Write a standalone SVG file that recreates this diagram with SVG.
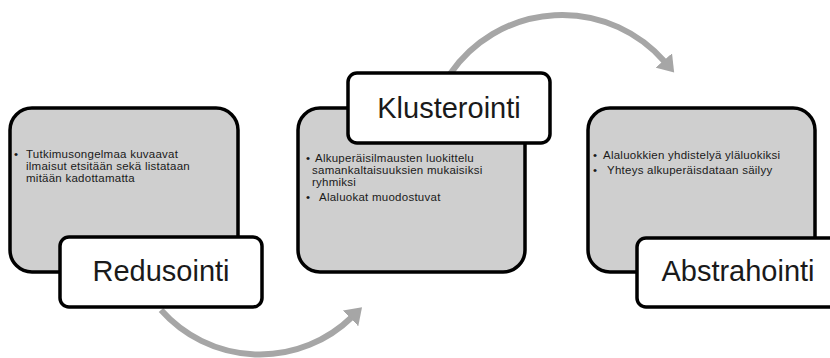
<svg xmlns="http://www.w3.org/2000/svg" width="830" height="358" viewBox="0 0 830 358">
<defs>
<marker id="ah" markerUnits="userSpaceOnUse" markerWidth="20" markerHeight="22" refX="2" refY="11" orient="auto">
<path d="M0,0 L16,11 L0,22 z" fill="#a6a6a6"/>
</marker>
<style>
.panel{fill:#cfcfcf;stroke:#000;stroke-width:3.5}
.label{fill:#fff;stroke:#000;stroke-width:3.5}
.big{font-family:"Liberation Sans",Arial,sans-serif;font-size:29px;fill:#1a1a1a;text-anchor:middle}
.small{font-family:"Liberation Sans",Arial,sans-serif;font-size:11.5px;letter-spacing:0.25px;fill:#1a1a1a}
.arc{fill:none;stroke:#a6a6a6;stroke-width:6;marker-end:url(#ah)}
</style>
</defs>
<rect width="830" height="358" fill="#fff"/>
<g id="connectors">
<path class="arc" d="M 161 310 A 132 132 0 0 0 352 317"/>
<path class="arc" d="M 450 74 A 136 136 0 0 1 665 62"/>
</g>
<g id="redusointi">
<rect class="panel" x="10" y="108" width="228" height="164" rx="22"/>
<text class="small"><tspan x="14" y="158">•</tspan><tspan x="26" y="158">Tutkimusongelmaa kuvaavat</tspan><tspan x="26" y="170">ilmaisut etsitään sekä listataan</tspan><tspan x="26" y="182">mitään kadottamatta</tspan></text>
<rect class="label" x="60" y="237" width="202" height="70" rx="9"/>
<text class="big" x="161" y="281">Redusointi</text>
</g>
<g id="klusterointi">
<rect class="panel" x="298" y="108" width="227" height="164" rx="22"/>
<text class="small"><tspan x="306" y="162">•</tspan><tspan x="315" y="162">Alkuperäisilmausten luokittelu</tspan><tspan x="312" y="174">samankaltaisuuksien mukaisiksi</tspan><tspan x="312" y="186">ryhmiksi</tspan><tspan x="306" y="201">•</tspan><tspan x="319" y="201">Alaluokat muodostuvat</tspan></text>
<rect class="label" x="348" y="73" width="202" height="70" rx="9"/>
<text class="big" x="449" y="118">Klusterointi</text>
</g>
<g id="abstrahointi">
<rect class="panel" x="588" y="108" width="227" height="164" rx="22"/>
<text class="small"><tspan x="593" y="159">•</tspan><tspan x="603" y="159">Alaluokkien yhdistelyä yläluokiksi</tspan><tspan x="593" y="174">•</tspan><tspan x="607" y="174">Yhteys alkuperäisdataan säilyy</tspan></text>
<rect class="label" x="637" y="238" width="202" height="69" rx="9"/>
<text class="big" x="738" y="281">Abstrahointi</text>
</g>
</svg>
